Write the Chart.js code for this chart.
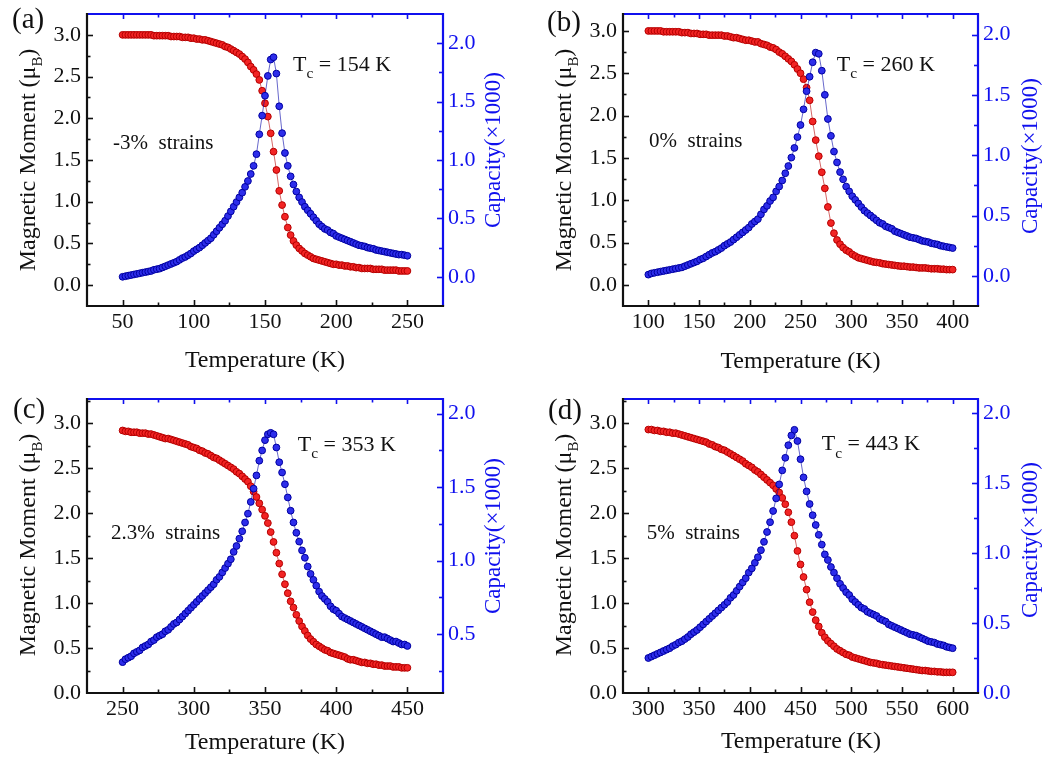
<!DOCTYPE html>
<html><head><meta charset="utf-8">
<script src="https://cdn.jsdelivr.net/npm/chart.js@4.4.0/dist/chart.umd.min.js"></script>
<style>
html,body{margin:0;padding:0;background:#fff;}
#wrap{position:relative;width:1051px;height:760px;overflow:hidden;background:#fff;}
.p{position:absolute;}
canvas{display:block;}
</style></head><body>
<div id="wrap">
<div class="p" style="left:0;top:0"><canvas id="ca" width="525" height="380"></canvas></div>
<div class="p" style="left:525px;top:0"><canvas id="cb" width="526" height="380"></canvas></div>
<div class="p" style="left:0;top:380px"><canvas id="cc" width="525" height="380"></canvas></div>
<div class="p" style="left:525px;top:380px"><canvas id="cd" width="526" height="380"></canvas></div>
</div>
<script>
// ---------------- data ----------------
const tempA = [50,52,54,56,58,60,62,64,66,68,70,72,74,76,78,80,82,84,86,88,90,92,94,96,98,100,102,104,106,108,110,112,114,116,118,120,122,124,126,128,130,132,134,136,138,140,142,144,146,148,150,152,154,156,158,160,162,164,166,168,170,172,174,176,178,180,182,184,186,188,190,192,194,196,198,200,202,204,206,208,210,212,214,216,218,220,222,224,226,228,230,232,234,236,238,240,242,244,246,248,250];
const momentA = [3.00,3.00,3.00,3.00,3.00,3.00,3.00,3.00,3.00,3.00,
3.00,2.99,2.99,2.99,2.99,2.99,2.99,2.98,2.98,2.98,
2.98,2.97,2.97,2.97,2.96,2.96,2.95,2.95,2.94,2.94,
2.93,2.92,2.91,2.90,2.89,2.88,2.86,2.85,2.83,2.81,
2.79,2.77,2.74,2.71,2.67,2.62,2.58,2.53,2.46,2.33,
2.18,2.02,1.82,1.60,1.38,1.13,0.96,0.82,0.69,0.60,
0.53,0.48,0.44,0.41,0.38,0.36,0.34,0.32,0.31,0.30,
0.29,0.28,0.27,0.26,0.25,0.25,0.24,0.24,0.23,0.23,
0.22,0.22,0.21,0.21,0.20,0.20,0.20,0.20,0.19,0.19,
0.19,0.19,0.18,0.18,0.18,0.18,0.18,0.17,0.17,0.17,
0.17];
const capA = [0.00,0.005,0.01,0.015,0.02,0.025,0.03,0.035,0.04,0.045,
0.05,0.06,0.065,0.07,0.08,0.09,0.10,0.11,0.12,0.13,
0.145,0.16,0.17,0.185,0.20,0.22,0.235,0.25,0.27,0.29,
0.31,0.33,0.36,0.39,0.42,0.45,0.48,0.52,0.56,0.60,
0.64,0.68,0.72,0.77,0.82,0.88,0.95,1.05,1.22,1.38,
1.55,1.72,1.86,1.88,1.74,1.46,1.23,1.06,0.95,0.86,
0.79,0.73,0.68,0.64,0.60,0.57,0.54,0.51,0.48,0.45,
0.43,0.41,0.40,0.38,0.37,0.35,0.34,0.33,0.32,0.31,
0.30,0.29,0.28,0.27,0.265,0.26,0.25,0.245,0.24,0.23,
0.225,0.22,0.215,0.21,0.205,0.20,0.195,0.19,0.19,0.185,
0.18];

const tempB = [100,103,106,109,112,115,118,121,124,127,130,133,136,139,142,145,148,151,154,157,160,163,166,169,172,175,178,181,184,187,190,193,196,199,202,205,208,211,214,217,220,223,226,229,232,235,238,241,244,247,250,253,256,259,262,265,268,271,274,277,280,283,286,289,292,295,298,301,304,307,310,313,316,319,322,325,328,331,334,337,340,343,346,349,352,355,358,361,364,367,370,373,376,379,382,385,388,391,394,397,400];
const momentB = [3.00,3.00,3.00,3.00,3.00,2.99,2.99,2.99,2.99,2.99,
2.99,2.98,2.98,2.98,2.97,2.97,2.97,2.96,2.96,2.96,
2.95,2.95,2.95,2.95,2.95,2.94,2.94,2.93,2.92,2.92,
2.91,2.90,2.89,2.89,2.88,2.87,2.87,2.85,2.84,2.83,
2.81,2.80,2.78,2.75,2.73,2.70,2.67,2.64,2.60,2.55,
2.50,2.43,2.33,2.18,1.93,1.71,1.52,1.33,1.14,0.92,
0.73,0.61,0.53,0.48,0.44,0.41,0.39,0.36,0.34,0.32,
0.31,0.30,0.29,0.28,0.27,0.265,0.26,0.25,0.245,0.24,
0.235,0.23,0.225,0.22,0.22,0.215,0.21,0.21,0.205,0.20,
0.20,0.20,0.195,0.19,0.19,0.19,0.185,0.185,0.18,0.18,
0.18];
const capB = [0.01,0.02,0.025,0.03,0.035,0.04,0.045,0.05,0.055,0.06,
0.065,0.07,0.08,0.09,0.10,0.11,0.12,0.135,0.145,0.16,
0.175,0.19,0.20,0.215,0.23,0.25,0.265,0.28,0.30,0.32,
0.34,0.36,0.38,0.40,0.43,0.45,0.47,0.51,0.55,0.58,
0.62,0.65,0.70,0.74,0.79,0.85,0.91,0.98,1.06,1.15,
1.25,1.38,1.53,1.65,1.77,1.85,1.84,1.70,1.50,1.30,
1.16,1.03,0.94,0.86,0.80,0.74,0.70,0.66,0.63,0.60,
0.57,0.54,0.52,0.50,0.48,0.46,0.44,0.43,0.41,0.40,
0.39,0.37,0.36,0.35,0.34,0.33,0.32,0.315,0.31,0.30,
0.29,0.285,0.28,0.27,0.265,0.26,0.25,0.245,0.24,0.235,
0.23];

const tempC = [250,252,254,256,258,260,262,264,266,268,270,272,274,276,278,280,282,284,286,288,290,292,294,296,298,300,302,304,306,308,310,312,314,316,318,320,322,324,326,328,330,332,334,336,338,340,342,344,346,348,350,352,354,356,358,360,362,364,366,368,370,372,374,376,378,380,382,384,386,388,390,392,394,396,398,400,402,404,406,408,410,412,414,416,418,420,422,424,426,428,430,432,434,436,438,440,442,444,446,448,450];
const momentC = [2.92,2.91,2.91,2.90,2.90,2.90,2.89,2.89,2.89,2.88,
2.88,2.87,2.86,2.85,2.84,2.83,2.83,2.82,2.81,2.80,
2.79,2.78,2.77,2.76,2.74,2.73,2.72,2.70,2.69,2.67,
2.66,2.64,2.62,2.61,2.59,2.57,2.55,2.53,2.51,2.49,
2.46,2.44,2.41,2.38,2.35,2.30,2.24,2.18,2.11,2.04,
1.97,1.89,1.79,1.68,1.56,1.44,1.32,1.21,1.11,1.02,
0.95,0.87,0.80,0.74,0.69,0.64,0.60,0.57,0.54,0.52,
0.50,0.48,0.47,0.45,0.44,0.43,0.42,0.41,0.40,0.38,
0.37,0.37,0.36,0.35,0.34,0.34,0.33,0.33,0.32,0.32,
0.31,0.31,0.30,0.30,0.30,0.29,0.29,0.29,0.28,0.28,
0.28];
const capC = [0.31,0.33,0.34,0.35,0.37,0.38,0.39,0.41,0.42,0.43,
0.45,0.46,0.48,0.49,0.50,0.52,0.53,0.55,0.57,0.58,
0.60,0.62,0.64,0.66,0.68,0.70,0.72,0.74,0.76,0.78,
0.80,0.82,0.84,0.87,0.89,0.92,0.95,0.98,1.01,1.06,
1.10,1.15,1.20,1.26,1.32,1.40,1.49,1.58,1.68,1.75,
1.82,1.86,1.87,1.86,1.77,1.67,1.60,1.52,1.43,1.34,
1.26,1.19,1.13,1.07,1.02,0.96,0.91,0.87,0.83,0.79,
0.76,0.74,0.72,0.69,0.67,0.66,0.64,0.62,0.61,0.60,
0.59,0.58,0.57,0.56,0.55,0.54,0.53,0.52,0.51,0.50,
0.49,0.48,0.48,0.47,0.46,0.45,0.45,0.44,0.43,0.43,
0.42];

const tempD = [300,303,306,309,312,315,318,321,324,327,330,333,336,339,342,345,348,351,354,357,360,363,366,369,372,375,378,381,384,387,390,393,396,399,402,405,408,411,414,417,420,423,426,429,432,435,438,441,444,447,450,453,456,459,462,465,468,471,474,477,480,483,486,489,492,495,498,501,504,507,510,513,516,519,522,525,528,531,534,537,540,543,546,549,552,555,558,561,564,567,570,573,576,579,582,585,588,591,594,597,600];
const momentD = [2.93,2.93,2.92,2.92,2.91,2.91,2.90,2.90,2.89,2.89,
2.88,2.87,2.86,2.85,2.84,2.83,2.82,2.81,2.80,2.79,
2.77,2.76,2.74,2.73,2.71,2.70,2.68,2.66,2.64,2.62,
2.60,2.58,2.55,2.53,2.51,2.48,2.46,2.43,2.40,2.37,
2.34,2.31,2.27,2.23,2.17,2.10,2.01,1.90,1.75,1.58,
1.43,1.29,1.15,1.01,0.90,0.81,0.74,0.67,0.62,0.58,
0.55,0.52,0.49,0.47,0.45,0.43,0.42,0.40,0.39,0.38,
0.37,0.36,0.35,0.34,0.335,0.33,0.32,0.315,0.31,0.305,
0.30,0.295,0.29,0.285,0.28,0.275,0.27,0.265,0.26,0.255,
0.25,0.25,0.245,0.24,0.24,0.235,0.235,0.23,0.23,0.23,
0.23];
const capD = [0.25,0.26,0.27,0.28,0.29,0.30,0.31,0.32,0.335,0.345,
0.36,0.37,0.385,0.40,0.42,0.435,0.45,0.47,0.49,0.51,
0.53,0.55,0.57,0.59,0.61,0.63,0.65,0.68,0.70,0.73,
0.76,0.79,0.82,0.86,0.89,0.93,0.97,1.02,1.08,1.15,
1.22,1.30,1.39,1.49,1.59,1.68,1.77,1.84,1.88,1.80,
1.67,1.54,1.44,1.35,1.27,1.20,1.13,1.06,0.99,0.95,
0.90,0.86,0.82,0.78,0.75,0.72,0.70,0.67,0.65,0.63,
0.61,0.60,0.58,0.57,0.56,0.55,0.53,0.52,0.51,0.49,
0.48,0.47,0.46,0.45,0.44,0.43,0.42,0.415,0.41,0.40,
0.39,0.38,0.37,0.365,0.36,0.35,0.345,0.34,0.33,0.325,
0.32];

// tick labels
const xTicksA = [50,100,150,200,250];
const xTicksB = [100,150,200,250,300,350,400];
const xTicksC = [250,300,350,400,450];
const xTicksD = [300,350,400,450,500,550,600];
const momentTicks = [0.0,0.5,1.0,1.5,2.0,2.5,3.0];
const capTicksAB = [0.0,0.5,1.0,1.5,2.0];
const capTicksC = [0.5,1.0,1.5,2.0];
const capTicksD = [0.0,0.5,1.0,1.5,2.0];

// texts
const panelLabels = ['(a)','(b)','(c)','(d)'];
const strainLabels = ['-3%  strains','0%  strains','2.3%  strains','5%  strains'];
const curieTemps = [154,260,353,443];
const xTitle = 'Temperature (K)';
const leftTitle = 'Magnetic Moment (\u03bc';
const leftTitleSub = 'B';
const rightTitle = 'Capacity(\u00d71000)';

// ---------------- drawing ----------------
const FONT = '"Liberation Serif","Times New Roman",Times,serif';
const BLUE = '#1010ee';
const BLACK = '#111111';

const panels = [
 {id:'ca', W:525, H:380, L:87, R:443, T:14, B:306, xr:[25,275], yr:[-0.25,3.25], y1r:[-0.25,2.25],
  xt:xTicksA, y1t:capTicksAB, temp:tempA, mom:momentA, cap:capA,
  lab:[12,28], str:[113,149], tc:[293,70.5], lt:[34.5,160], rt:[500,150], bt:[265,366.5]},
 {id:'cb', W:526, H:380, L:98, R:453, T:14, B:306, xr:[75,425], yr:[-0.25,3.2], y1r:[-0.25,2.17],
  xt:xTicksB, y1t:capTicksAB, temp:tempB, mom:momentB, cap:capB,
  lab:[22,31], str:[124,147], tc:[311.7,70.5], lt:[46,160], rt:[512,156], bt:[275.5,367.5]},
 {id:'cc', W:525, H:380, L:87, R:443, T:19, B:313, xr:[225,475], yr:[0,3.27], y1r:[0.1,2.1],
  xt:xTicksC, y1t:capTicksC, temp:tempC, mom:momentC, cap:capC,
  lab:[13,38], str:[111,159], tc:[297.7,70.5], lt:[34.5,165], rt:[500,156], bt:[265,368.5]},
 {id:'cd', W:526, H:380, L:98, R:453, T:19, B:313, xr:[275,625], yr:[0,3.27], y1r:[0,2.1],
  xt:xTicksD, y1t:capTicksD, temp:tempD, mom:momentD, cap:capD,
  lab:[23,39], str:[121.7,159], tc:[296.7,70], lt:[46,165], rt:[512,160], bt:[276,367.5]}
];

function rich(ctx, segs, x, y, size, color, opts) {
  opts = opts || {};
  ctx.save();
  ctx.translate(x, y);
  if (opts.rot) ctx.rotate(opts.rot);
  ctx.fillStyle = color; ctx.textBaseline = 'alphabetic'; ctx.textAlign = 'left';
  const subScale = opts.subScale || 0.65, subOff = opts.subOff || 0.3;
  const items = segs.map(s => {
    const sz = s.sub ? size * subScale : size;
    ctx.font = sz + 'px ' + FONT;
    return {t: s.t, sz: sz, sub: s.sub, w: ctx.measureText(s.t).width};
  });
  const total = items.reduce((a, b) => a + b.w, 0);
  let cx = opts.center ? -total / 2 : 0;
  for (const it of items) {
    ctx.font = it.sz + 'px ' + FONT;
    ctx.fillText(it.t, cx, it.sub ? size * subOff : 0);
    cx += it.w;
  }
  ctx.restore();
}

function stepsIn(min, max, step) {
  const out = [];
  for (let k = Math.ceil(min / step - 1e-9); k * step <= max + 1e-9; k++) out.push(+(k * step).toFixed(4));
  return out;
}

function makeFrame(p, idx) {
  return {
    id: 'frame' + idx,
    afterDraw(chart) {
      const ctx = chart.ctx, a = chart.chartArea, sx = chart.scales.x, sy = chart.scales.y, sy1 = chart.scales.y1;
      ctx.save();
      ctx.lineCap = 'butt';
      const xs = stepsIn(p.xr[0], p.xr[1], 25);
      const xMajor = v => p.xt.indexOf(v) >= 0;
      ctx.lineWidth = 1.6;
      xs.forEach(v => {
        const px = Math.round(sx.getPixelForValue(v)) + 0.5;
        if (px <= a.left + 1 || px >= a.right - 1) return;
        const len = xMajor(v) ? 6 : 3.5;
        ctx.strokeStyle = BLACK; ctx.beginPath(); ctx.moveTo(px, a.bottom); ctx.lineTo(px, a.bottom - len); ctx.stroke();
        ctx.strokeStyle = BLUE; ctx.beginPath(); ctx.moveTo(px, a.top); ctx.lineTo(px, a.top + (xMajor(v) ? 5 : 3.5)); ctx.stroke();
      });
      stepsIn(p.yr[0], p.yr[1], 0.25).forEach(v => {
        const py = Math.round(sy.getPixelForValue(v)) + 0.5;
        if (py <= a.top + 1 || py >= a.bottom - 1) return;
        const major = Math.abs(v * 2 - Math.round(v * 2)) < 1e-6;
        ctx.strokeStyle = BLACK; ctx.beginPath(); ctx.moveTo(a.left, py); ctx.lineTo(a.left + (major ? 6 : 3.5), py); ctx.stroke();
      });
      stepsIn(p.y1r[0], p.y1r[1], 0.25).forEach(v => {
        const py = Math.round(sy1.getPixelForValue(v)) + 0.5;
        if (py <= a.top + 1 || py >= a.bottom - 1) return;
        const major = Math.abs(v * 2 - Math.round(v * 2)) < 1e-6;
        ctx.strokeStyle = BLUE; ctx.beginPath(); ctx.moveTo(a.right, py); ctx.lineTo(a.right - (major ? 6 : 4), py); ctx.stroke();
      });
      ctx.lineWidth = 2.2;
      ctx.strokeStyle = BLUE;
      ctx.beginPath(); ctx.moveTo(a.left, a.top); ctx.lineTo(a.right, a.top); ctx.lineTo(a.right, a.bottom); ctx.stroke();
      ctx.strokeStyle = BLACK;
      ctx.beginPath(); ctx.moveTo(a.left, a.top - 1.1); ctx.lineTo(a.left, a.bottom); ctx.lineTo(a.right + 1.1, a.bottom); ctx.stroke();
      ctx.restore();
      rich(ctx, [{t: panelLabels[idx]}], p.lab[0], p.lab[1], 29, BLACK);
      rich(ctx, [{t: strainLabels[idx]}], p.str[0], p.str[1], 21, BLACK);
      rich(ctx, [{t: 'T'}, {t: 'c', sub: true}, {t: ' = ' + curieTemps[idx] + ' K'}], p.tc[0], p.tc[1], 22, BLACK, {subOff: 0.36, subScale: 0.7});
      rich(ctx, [{t: leftTitle}, {t: leftTitleSub, sub: true}, {t: ')'}], p.lt[0], p.lt[1], 24, BLACK, {rot: -Math.PI / 2, center: true, subOff: 0.3, subScale: 0.62});
      rich(ctx, [{t: rightTitle}], p.rt[0], p.rt[1], 23, BLUE, {rot: -Math.PI / 2, center: true});
      rich(ctx, [{t: xTitle}], p.bt[0], p.bt[1], 24, BLACK, {center: true});
    }
  };
}

panels.forEach((p, idx) => {
  const redPts = p.temp.map((t, i) => ({x: t, y: p.mom[i]}));
  const bluePts = p.temp.map((t, i) => ({x: t, y: p.cap[i]}));
  const tickFont = {family: FONT, size: 22};
  const noPadV = s => { s.paddingTop = 0; s.paddingBottom = 0; };
  new Chart(document.getElementById(p.id), {
    type: 'scatter',
    data: {
      datasets: [
        {label: 'Capacity', data: bluePts, yAxisID: 'y1', showLine: true, borderWidth: 0.6,
         borderColor: '#0000a8', backgroundColor: '#2a2ae8', pointBackgroundColor: '#2d2dea',
         pointBorderColor: '#0000a0', pointBorderWidth: 1, pointRadius: 3.4, order: 1},
        {label: 'Magnetic Moment', data: redPts, yAxisID: 'y', showLine: true, borderWidth: 0.6,
         borderColor: '#b80000', backgroundColor: '#f02020', pointBackgroundColor: '#f22424',
         pointBorderColor: '#b40000', pointBorderWidth: 1, pointRadius: 3.4, order: 2}
      ]
    },
    options: {
      responsive: false, animation: false, devicePixelRatio: 1,
      layout: {padding: {top: p.T, left: 0, right: 0, bottom: 0}},
      plugins: {legend: {display: false}, tooltip: {enabled: false}},
      scales: {
        x: {type: 'linear', position: 'bottom', min: p.xr[0], max: p.xr[1],
            afterBuildTicks: s => { s.ticks = p.xt.map(v => ({value: v})); },
            afterFit: s => { s.height = p.H - p.B; s.paddingLeft = 0; s.paddingRight = 0; },
            grid: {display: false, drawTicks: false}, border: {display: false},
            ticks: {font: tickFont, color: BLACK, padding: 3, autoSkip: false, maxRotation: 0, callback: v => String(v)}},
        y: {type: 'linear', position: 'left', min: p.yr[0], max: p.yr[1],
            afterBuildTicks: s => { s.ticks = momentTicks.map(v => ({value: v})); },
            afterFit: s => { s.width = p.L; noPadV(s); },
            grid: {display: false, drawTicks: false}, border: {display: false},
            ticks: {font: tickFont, color: BLACK, padding: 6, autoSkip: false, callback: v => Number(v).toFixed(1)}},
        y1: {type: 'linear', position: 'right', min: p.y1r[0], max: p.y1r[1],
            afterBuildTicks: s => { s.ticks = p.y1t.map(v => ({value: v})); },
            afterFit: s => { s.width = p.W - p.R; noPadV(s); },
            grid: {display: false, drawTicks: false}, border: {display: false},
            ticks: {font: tickFont, color: BLUE, padding: 5, autoSkip: false, callback: v => Number(v).toFixed(1)}}
      }
    },
    plugins: [makeFrame(p, idx)]
  });
});
</script>
</body></html>
